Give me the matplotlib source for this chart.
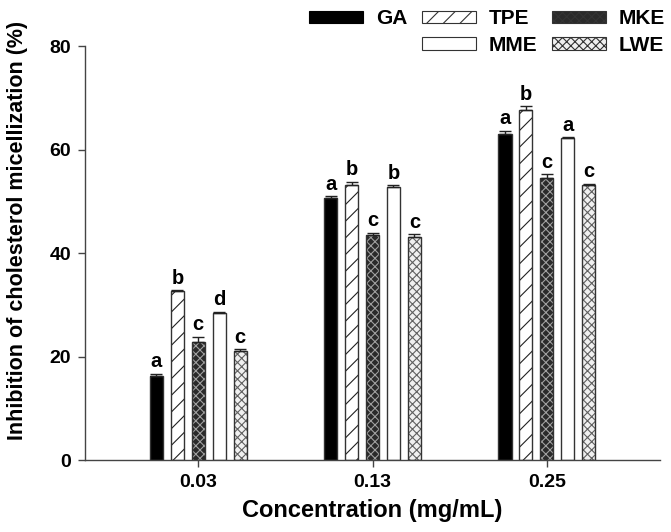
import numpy as np
import matplotlib
matplotlib.use("Agg")
import matplotlib.pyplot as plt
from matplotlib.patches import Patch

plt.rcParams["font.family"] = ["Liberation Sans", "DejaVu Sans"]
plt.rcParams["font.weight"] = "bold"
plt.rcParams["hatch.linewidth"] = 0.8

concs = ["0.03", "0.13", "0.25"]
series = ["GA", "TPE", "MKE", "MME", "LWE"]
values = {
    "GA":  [16.3, 50.7, 63.0],
    "TPE": [32.6, 53.1, 67.6],
    "MKE": [22.9, 43.5, 54.6],
    "MME": [28.4, 52.8, 62.2],
    "LWE": [21.1, 43.2, 53.1],
}
errors = {
    "GA":  [0.4, 0.3, 0.6],
    "TPE": [0.2, 0.7, 0.8],
    "MKE": [0.9, 0.4, 0.6],
    "MME": [0.3, 0.3, 0.2],
    "LWE": [0.3, 0.4, 0.3],
}
letters = {
    "GA":  ["a", "a", "a"],
    "TPE": ["b", "b", "b"],
    "MKE": ["c", "c", "c"],
    "MME": ["d", "b", "a"],
    "LWE": ["c", "c", "c"],
}

# face, hatch, hatch colour
STYLE = {
    "GA":  ("black", "", "black"),
    "TPE": ("white", "//", "#222222"),
    "MKE": ("#2a2a2a", "xxxx", "#a0a0a0"),
    "MME": ("white", "", "white"),
    "LWE": ("#f0f0f0", "xxxx", "#606060"),
}
EDGE = "#333333"

fig = plt.figure(figsize=(6.71, 5.32), dpi=100)
ax = fig.add_axes([0.1267, 0.1353, 0.857, 0.778])

x = np.arange(1, len(concs) + 1)
width = 0.075
step = 0.12
for i, s in enumerate(series):
    pos = x + (i - 2) * step
    face, hatch, hcol = STYLE[s]
    ax.bar(pos, values[s], width, color=face, hatch=hatch, edgecolor=hcol, lw=0, zorder=2)
    ax.bar(pos, values[s], width, fill=False, edgecolor=EDGE, lw=1.0, zorder=3)
    ax.errorbar(pos, values[s], yerr=[np.zeros(3), errors[s]], fmt="none",
                ecolor="#222222", elinewidth=1, capsize=4, capthick=1, zorder=4)
    for p, v, e, l in zip(pos, values[s], errors[s], letters[s]):
        ax.text(p, v + e + 0.5, l, ha="center", va="bottom", fontsize=14.5,
                fontweight="bold")

ax.set_xlim(0.35, 3.65)
ax.set_ylim(0, 80)
ax.set_xticks(x)
ax.set_xticklabels(concs)
ax.set_yticks(np.arange(0, 81, 20))
ax.tick_params(labelsize=14, length=5, width=1, color="#444444", pad=5)
for sp in ["top", "right"]:
    ax.spines[sp].set_visible(False)
for sp in ["left", "bottom"]:
    ax.spines[sp].set_color("#444444")
    ax.spines[sp].set_linewidth(1)
ax.set_xlabel("Concentration (mg/mL)", fontsize=17, fontweight="bold", labelpad=6)
ax.set_ylabel("Inhibition of cholesterol micellization (%)", fontsize=15.5,
              fontweight="bold")
ax.yaxis.set_label_coords(-0.099, 0.555)

handles = []
labels = []
order = ["GA", None, "TPE", "MME", "MKE", "LWE"]
for s in order:
    if s is None:
        handles.append(Patch(visible=False))
        labels.append("")
        continue
    face, hatch, hcol = STYLE[s]
    handles.append(Patch(facecolor=face, hatch=hatch, edgecolor=EDGE if s != "GA" else "black", lw=0.8))
    labels.append(s)
leg = fig.legend(handles, labels, ncol=3, loc="upper right", bbox_to_anchor=(1.0, 0.994),
                 frameon=False, fontsize=15, handlelength=2.6, handleheight=0.55,
                 columnspacing=0.7, handletextpad=0.6, labelspacing=0.35,
                 borderaxespad=0.1, borderpad=0.2)
for t in leg.get_texts():
    t.set_fontweight("bold")

fig.savefig("out.png", dpi=100)
